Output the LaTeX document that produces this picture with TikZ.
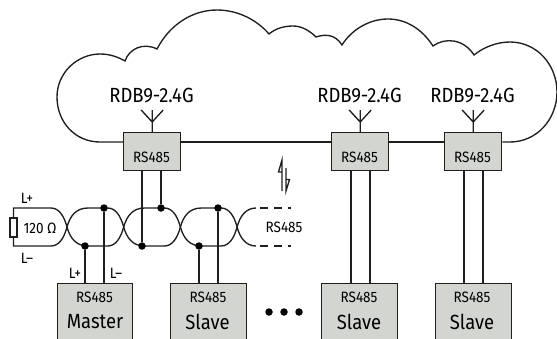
\documentclass[tikz,border=0pt]{standalone}
\usepackage{fontspec}
\setmainfont[FakeStretch=0.9]{Fira Sans}
\definecolor{boxgrey}{HTML}{D3D6D0}
\tikzset{
  wire/.style={line width=1.35pt,black!88},
  longwire/.style={line width=1.8pt,black!88},
  greybox/.style={draw=black!88,line width=1.4pt,fill=boxgrey,inner sep=0pt,anchor=north west},
  jdot/.style={circle,fill=black,inner sep=0pt,minimum size=7.5pt},
  bigdot/.style={circle,fill=black,inner sep=0pt,minimum size=7.5pt},
  rdbtext/.style={font=\fontsize{20.5}{20.5}\selectfont,inner sep=0pt},
  rstext/.style={font=\fontsize{15}{15}\selectfont,inner sep=0pt},
  roletext/.style={font=\fontsize{20.5}{20.5}\selectfont,inner sep=0pt},
  lbltext/.style={font=\fontsize{15}{15}\selectfont,inner sep=0pt}
}
\newcommand{\antenna}[1]{\draw[wire] (#1.north) -- ++(0,-22) ++(-11,0) -- ++(11,12) -- ++(11,-12);}
\begin{document}
\begin{tikzpicture}[x=1pt,y=-1pt]
\useasboundingbox (0,0) rectangle (557,338);
\clip (0,0) rectangle (557,338);
% boxes on the radio line
\node[greybox,minimum width=57pt,minimum height=38pt] (t1) at (123,132) {};
\node[greybox,minimum width=57pt,minimum height=38pt] (t2) at (331,132) {};
\node[greybox,minimum width=57pt,minimum height=38pt] (t3) at (444,132) {};
\node[rstext] at (151.5,157.5) {RS485};
\node[rstext] at (359.5,157.5) {RS485};
\node[rstext] at (472.5,157.5) {RS485};
% cloud
\draw[wire] (t1.west |- 0,142) -- (100,142)
  .. controls (75,142) and (57,122) .. (57,97)
  .. controls (57,72) and (78,54) .. (100,54)
  .. controls (110,54) and (118,57) .. (125,61)
  .. controls (129,49) and (143,42) .. (157,49)
  .. controls (170,24) and (193,10) .. (217,10)
  .. controls (238,10) and (257,20) .. (269,34)
  .. controls (276,28) and (285,26) .. (293,26)
  .. controls (301,26) and (309,30) .. (316,37)
  .. controls (325,34) and (335,34) .. (342,45)
  .. controls (352,29) and (370,19) .. (388,19)
  .. controls (406,19) and (422,29) .. (433,46)
  .. controls (445,37) and (464,39) .. (474,55)
  .. controls (484,47) and (497,42) .. (510,42)
  .. controls (537,42) and (557,65) .. (557,92)
  .. controls (557,119) and (537,142) .. (510,142)
  -- (t3.east |- 0,142);
\draw[wire] (t1.east |- 0,142) -- (t2.west |- 0,142);
\draw[wire] (t2.east |- 0,142) -- (t3.west |- 0,142);
% antennas and labels
\antenna{t1}\antenna{t2}\antenna{t3}
\node[rdbtext] at (151.5,96) {RDB9-2.4G};
\node[rdbtext] at (359.5,96) {RDB9-2.4G};
\node[rdbtext] at (472.5,96) {RDB9-2.4G};
% bottom boxes
\node[greybox,minimum width=75pt,minimum height=70pt] (m) at (57,283) {};
\node[greybox,minimum width=76pt,minimum height=70pt] (s1) at (170,283) {};
\node[greybox,minimum width=76pt,minimum height=70pt] (s2) at (321,283) {};
\node[greybox,minimum width=76pt,minimum height=70pt] (s3) at (435,283) {};
\node[rstext] at (94.5,297) {RS485};
\node[rstext] at (208,297) {RS485};
\node[rstext] at (359,297) {RS485};
\node[rstext] at (472,297) {RS485};
\node[roletext] at (95,322) {Master};
\node[roletext] at (207.5,322) {Slave};
\node[roletext] at (359,322) {Slave};
\node[roletext] at (472,322) {Slave};
% twisted pair
\foreach \c in {67,123.7,180.4}{
  \pgfmathsetmacro{\e}{\c+56.7}
  \draw[wire] (\c,227) .. controls (\c+3,216) and (\c+9,208) .. (\c+21,208) -- (\e-16,208) .. controls (\e-8,208) and (\e-3,216) .. (\e,227);
  \draw[wire] (\c,227) .. controls (\c+3,238) and (\c+9,246) .. (\c+21,246) -- (\e-16,246) .. controls (\e-8,246) and (\e-3,238) .. (\e,227);
}
% terminated end
\node[draw=black!88,line width=1.3pt,fill=white,minimum width=7pt,minimum height=19pt,inner sep=0pt] (res) at (13.5,227.5) {};
\draw[wire] (res.north) -- (13.5,208) -- (51,208) .. controls (59,208) and (64,216) .. (67,227);
\draw[wire] (res.south) -- (13.5,246) -- (51,246) .. controls (59,246) and (64,238) .. (67,227);
% open end
\coordinate (o1) at (256,208);
\coordinate (o2) at (256,246);
\draw[wire] (237.1,227) .. controls (240,216) and (246,208) .. (o1);
\draw[wire] (237.1,227) .. controls (240,238) and (246,246) .. (o2);
\draw[wire,dash pattern=on 8pt off 6pt] (o1) ++(4,0) -- (291,208);
\draw[wire,dash pattern=on 8pt off 6pt] (o2) ++(4,0) -- (291,246);
% junctions
\node[jdot] (a1) at (104,208) {};
\node[jdot] (b1) at (85,246) {};
\node[jdot] (a2) at (161,208) {};
\node[jdot] (b2) at (142,246) {};
\node[jdot] (a3) at (218,208) {};
\node[jdot] (b3) at (199,246) {};
% stubs
\draw[wire] (a1) -- (a1 |- m.north);
\draw[wire] (b1) -- (b1 |- m.north);
\draw[wire] (a2) -- (a2 |- t1.south);
\draw[wire] (b2) -- (b2 |- t1.south);
\draw[wire] (a3) -- (a3 |- s1.north);
\draw[wire] (b3) -- (b3 |- s1.north);
\draw[longwire] ([xshift=-9pt]t2.south) -- ([xshift=-9pt]t2.south |- s2.north);
\draw[longwire] ([xshift=10pt]t2.south) -- ([xshift=10pt]t2.south |- s2.north);
\draw[longwire] ([xshift=-9pt]t3.south) -- ([xshift=-9pt]t3.south |- s3.north);
\draw[longwire] ([xshift=10pt]t3.south) -- ([xshift=10pt]t3.south |- s3.north);
% labels
\node[lbltext] at (27,198) {L+};
\node[lbltext] at (27,258) {L–};
\node[lbltext] at (75,273) {L+};
\node[lbltext] at (116,273) {L–};
\node[lbltext] at (40,228) {120 Ω};
\node[lbltext] at (284,227) {RS485};
% ellipsis
\node[bigdot] at (269,312) {};
\node[bigdot] at (284,312) {};
\node[bigdot] at (299,312) {};
% interference symbol
\draw[wire] (282,191) -- (282,160) -- (278.5,172) -- (282,172);
\draw[wire] (286,168) -- (286,191) -- (289.5,179.5) -- (286,179.5);
\end{tikzpicture}
\end{document}
